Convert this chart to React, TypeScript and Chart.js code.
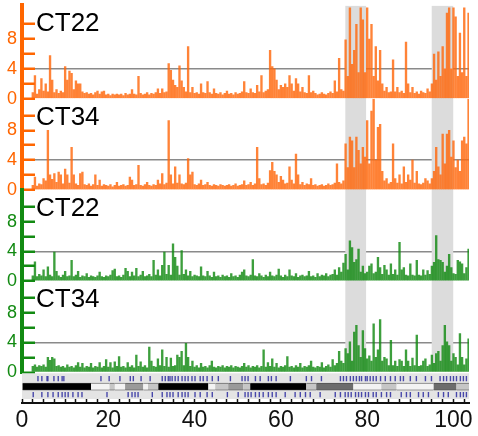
import React, { useEffect, useRef } from 'react';
import { Chart, registerables } from 'chart.js';

Chart.register(...registerables);

// ---------- data ----------
const SAMPLE_START = 2.5;
const SAMPLE_STEP = 0.5;

const ORANGE_CT22 = [
  0.8, 3.1, 0.6, 1.2, 2.7, 1.0, 2.0, 0.9, 5.8, 2.5,
  0.8, 1.2, 0.7, 1.0, 0.8, 4.3, 2.5, 3.7, 3.4, 1.2,
  2.4, 2.0, 2.0, 0.9, 0.7, 0.8, 0.6, 0.7, 0.5, 0.8,
  1.0, 0.6, 0.9, 1.0, 0.5, 0.6, 0.4, 0.6, 0.5, 0.6,
  0.5, 0.6, 0.4, 0.7, 0.5, 0.6, 1.2, 0.6, 0.5, 3.0,
  0.7, 0.5, 0.6, 0.8, 0.5, 0.7, 0.6, 0.8, 1.3, 0.7,
  1.3, 0.8, 0.9, 4.7, 3.8, 2.5, 1.8, 1.5, 4.4, 2.4,
  1.5, 0.9, 7.0, 0.8, 1.5, 0.7, 0.8, 0.6, 2.0, 0.8,
  0.7, 2.3, 0.8, 0.6, 1.3, 0.7, 0.6, 0.8, 0.5, 0.7,
  1.0, 0.6, 0.7, 0.5, 0.8, 0.6, 0.7, 0.9, 2.3, 0.8,
  0.7, 1.3, 0.8, 0.7, 1.8, 0.9, 3.1, 0.8, 1.0, 1.2,
  6.5, 4.3, 4.0, 2.5, 1.2, 1.8, 1.5, 2.0, 1.5, 3.1,
  2.0, 1.0, 2.7, 2.0, 0.9, 1.5, 0.8, 0.7, 3.1, 0.8,
  1.0, 0.7, 0.5, 0.6, 0.8, 0.6, 0.5, 0.7, 0.9, 0.7,
  2.4, 0.9, 5.4, 1.2, 1.0, 7.9, 3.0, 12.2, 4.6, 6.5,
  10.0, 3.5, 12.2, 10.6, 3.5, 12.2, 8.0, 10.0, 3.0, 7.0,
  2.4, 6.5, 2.0, 1.0, 1.5, 0.8, 0.9, 5.2, 0.9, 1.5,
  0.8, 1.0, 0.7, 7.6, 2.0, 0.8, 1.5, 0.7, 0.9, 0.6,
  1.0, 0.8, 0.7, 1.3, 0.9, 2.0, 6.0, 2.5, 6.3, 3.0,
  7.0, 4.0, 11.5, 12.2, 4.0, 12.2, 11.0, 3.0, 8.8, 3.5,
  12.2, 3.0, 11.5,
];

const ORANGE_CT34 = [
  0.6, 1.7, 0.5, 0.8, 0.7, 1.5, 1.2, 8.0, 2.0, 1.4,
  2.2, 1.0, 2.4, 2.0, 0.8, 2.8, 2.0, 0.9, 5.7, 2.0,
  0.8, 0.6, 2.2, 2.4, 0.7, 0.6, 0.8, 0.5, 0.7, 2.0,
  0.6, 1.3, 0.5, 0.7, 0.6, 0.5, 0.7, 0.4, 0.6, 1.0,
  0.5, 0.6, 0.7, 0.5, 0.6, 1.7, 1.3, 0.6, 0.7, 3.3,
  0.6, 0.5, 0.7, 1.0, 0.6, 0.5, 0.7, 0.6, 1.3, 0.8,
  2.2, 0.7, 0.9, 9.3, 2.0, 0.8, 3.1, 0.9, 2.0, 0.8,
  0.7, 0.9, 4.2, 2.0, 2.4, 0.7, 0.6, 0.8, 1.3, 0.6,
  0.7, 1.0, 0.6, 0.5, 0.7, 0.6, 0.5, 0.7, 0.6, 0.5,
  0.6, 0.7, 0.5, 0.6, 0.8, 0.5, 0.6, 0.7, 1.2, 0.6,
  0.7, 1.0, 0.6, 0.8, 5.7, 1.5, 0.7, 0.8, 0.6, 0.9,
  2.6, 3.7, 2.5, 2.0, 1.0, 1.8, 1.3, 0.8, 0.9, 3.1,
  1.3, 0.8, 4.8, 2.0, 0.7, 1.0, 0.6, 0.8, 0.7, 1.5,
  0.6, 0.7, 0.5, 0.6, 0.7, 0.5, 0.6, 0.8, 0.6, 0.7,
  0.9, 3.5, 1.0, 0.8, 1.2, 6.2, 3.0, 7.1, 6.6, 3.0,
  7.1, 5.3, 3.5, 5.7, 4.4, 9.3, 3.5, 10.6, 12.2, 4.0,
  8.4, 8.8, 2.5, 1.2, 1.5, 0.8, 1.0, 6.2, 1.5, 0.9,
  2.0, 0.8, 3.1, 1.0, 2.0, 1.3, 4.0, 0.9, 2.5, 0.8,
  0.7, 0.9, 1.5, 1.2, 0.8, 1.5, 2.5, 5.7, 3.1, 2.0,
  7.5, 3.5, 7.5, 8.0, 4.4, 6.6, 3.0, 4.0, 2.5, 6.6,
  7.1, 6.2, 12.2,
];

const GREEN_CT22 = [
  0.7, 2.6, 0.6, 0.9, 0.7, 1.5, 0.6, 1.9, 0.8, 0.6,
  3.9, 1.3, 0.7, 0.5, 0.8, 1.3, 0.6, 0.7, 2.8, 0.6,
  0.8, 1.3, 0.5, 0.7, 0.6, 1.0, 0.5, 0.7, 0.6, 0.5,
  0.7, 1.2, 0.6, 0.5, 0.7, 0.6, 0.8, 1.4, 1.6, 0.6,
  0.7, 0.5, 0.8, 1.7, 1.3, 0.6, 1.2, 0.7, 1.7, 0.6,
  0.8, 1.3, 0.6, 0.7, 0.9, 0.6, 2.8, 0.8, 1.5, 0.7,
  2.1, 3.9, 0.9, 2.1, 0.8, 5.0, 3.2, 2.0, 0.8, 4.1,
  0.9, 1.5, 0.7, 1.3, 0.6, 0.8, 0.7, 0.6, 1.9, 0.7,
  0.6, 1.3, 0.7, 0.5, 1.2, 0.6, 0.7, 0.5, 0.8, 0.6,
  0.7, 0.5, 1.0, 0.6, 0.7, 0.5, 0.8, 1.2, 1.5, 0.7,
  0.6, 0.8, 2.9, 0.7, 0.6, 1.0, 0.7, 0.5, 0.8, 0.6,
  1.2, 0.7, 0.6, 0.8, 1.6, 0.7, 0.5, 0.8, 0.6, 1.5,
  0.7, 0.6, 1.0, 0.5, 0.7, 0.8, 0.6, 0.7, 1.3, 0.6,
  0.7, 0.5, 1.0, 0.6, 0.8, 0.7, 1.0, 0.6, 0.8, 0.9,
  1.5, 0.8, 1.8, 1.2, 2.4, 3.6, 1.5, 5.4, 4.5, 2.5,
  2.9, 4.3, 1.2, 2.0, 1.0, 1.2, 2.0, 2.3, 1.0, 1.2,
  3.2, 1.8, 0.9, 2.1, 1.5, 0.8, 2.3, 0.9, 1.5, 0.8,
  5.2, 1.5, 1.8, 0.8, 0.7, 2.3, 0.8, 0.7, 2.8, 0.8,
  0.7, 1.5, 0.8, 1.4, 0.9, 2.0, 2.5, 6.1, 2.9, 2.8,
  2.5, 1.2, 2.0, 3.6, 1.8, 1.0, 0.9, 2.8, 2.6, 2.3,
  1.0, 1.8, 4.3,
];

const GREEN_CT34 = [
  0.8, 1.0, 0.7, 0.9, 0.8, 1.0, 0.7, 2.0, 1.6, 2.0,
  1.8, 0.8, 0.9, 0.7, 0.8, 0.6, 1.0, 0.7, 0.8, 0.6,
  0.9, 1.3, 0.7, 1.2, 0.6, 0.8, 0.7, 1.2, 0.6, 0.8,
  0.7, 1.3, 0.6, 0.8, 1.7, 0.7, 1.3, 0.6, 1.4, 0.8,
  2.1, 0.7, 0.8, 0.6, 1.3, 0.7, 0.9, 0.6, 2.3, 0.8,
  1.4, 0.7, 0.9, 0.6, 3.4, 1.5, 0.8, 0.7, 1.8, 0.9,
  3.0, 0.8, 2.0, 0.7, 1.9, 0.8, 0.9, 2.3, 2.0, 2.8,
  0.9, 3.9, 2.0, 0.8, 1.5, 0.7, 0.9, 0.6, 1.2, 0.7,
  0.8, 0.6, 0.9, 1.5, 0.7, 0.6, 0.8, 0.7, 0.9, 0.6,
  0.8, 0.7, 0.9, 0.6, 0.8, 0.7, 0.6, 0.8, 1.2, 0.7,
  0.9, 0.6, 0.8, 0.7, 0.9, 0.6, 0.8, 3.0, 0.7, 1.3,
  0.8, 1.8, 0.7, 1.2, 0.6, 0.8, 0.7, 0.9, 2.1, 0.7,
  0.8, 0.6, 0.9, 0.7, 1.2, 0.6, 0.8, 0.7, 0.9, 1.5,
  0.7, 0.6, 0.8, 0.7, 1.3, 0.6, 0.8, 1.0, 0.7, 1.7,
  0.9, 1.2, 2.8, 1.5, 1.2, 3.2, 2.5, 4.1, 1.5, 5.4,
  6.3, 3.6, 2.0, 5.6, 3.2, 1.8, 2.2, 1.5, 6.5, 2.0,
  3.0, 7.1, 1.5, 2.0, 1.8, 0.9, 4.3, 0.9, 1.5, 0.8,
  1.7, 1.5, 0.8, 3.0, 1.5, 0.8, 1.9, 0.9, 5.0, 0.8,
  0.9, 1.5, 1.8, 0.8, 1.0, 2.3, 1.2, 2.5, 2.8, 1.5,
  3.6, 6.3, 4.1, 3.6, 1.5, 2.5, 2.0, 1.0, 5.2, 2.0,
  1.0, 1.8, 4.5,
];

const PANEL_LABELS = ['CT22', 'CT34', 'CT22', 'CT34'];
const Y_TICKS = [0, 2, 4, 6, 8, 10];
const Y_LABELED = [0, 4, 8];
const THRESHOLD = 4;
const X_LABELS = [0, 20, 40, 60, 80, 100];
const RULER_STEP = 2.5;

// highlighted regions (x start, x end)
const HIGHLIGHT_STARTS = [74.9, 94.9];
const HIGHLIGHT_ENDS = [79.8, 100.0];

// chromosome ideogram
const IDEO_EDGES = [0, 16.0, 20.3, 21.5, 23.9, 28.1, 29.2, 31.6, 43.2, 44.8, 47.8, 51.3, 52.9, 65.9, 68.2, 76.8, 83.3, 86.8, 95.4, 100.7, 103.6];
const IDEO_STAINS = ['gpos100', 'gneg', 'gpos25', 'gneg', 'gpos50', 'gneg', 'gpos25', 'gpos100', 'gneg', 'gpos25', 'gpos50', 'gpos25', 'gpos100', 'gpos25', 'gpos75', 'gneg', 'gpos25', 'gneg', 'gpos75', 'gpos25'];
const GENES_TOP = [3.7, 4.6, 5.8, 6.0, 7.4, 8.4, 9.3, 9.7, 18.3, 20.2, 22.7, 25.1, 25.8, 27.6, 29.7, 32.5, 33.2, 33.9, 34.3, 34.8, 35.5, 36.2, 37.1, 37.8, 38.5, 39.4, 40.1, 41.3, 42.0, 42.9, 44.1, 45.5, 48.3, 51.0, 51.7, 52.4, 54.1, 55.2, 57.1, 57.8, 58.9, 62.2, 65.9, 67.1, 69.4, 73.8, 74.5, 75.2, 76.1, 76.8, 77.5, 78.2, 78.7, 79.6, 80.0, 80.7, 81.4, 82.1, 83.1, 84.2, 85.4, 86.5, 87.7, 88.4, 90.0, 91.4, 93.5, 94.9, 96.9, 97.7, 98.4, 99.3, 100.0, 100.7, 101.6, 102.3, 103.0];
const GENES_BOTTOM = [2.6, 4.6, 6.0, 7.2, 8.4, 9.3, 10.0, 10.7, 11.8, 13.0, 13.9, 19.7, 24.6, 25.5, 26.2, 26.9, 30.2, 32.5, 33.6, 34.3, 35.0, 36.2, 37.1, 37.8, 38.5, 40.1, 41.3, 42.9, 44.1, 47.6, 50.1, 51.7, 52.4, 53.1, 54.1, 55.0, 55.9, 57.1, 58.0, 58.9, 61.0, 63.3, 64.5, 65.7, 66.8, 69.1, 72.6, 73.8, 74.9, 75.6, 76.3, 77.3, 78.0, 78.7, 79.6, 80.3, 81.4, 82.1, 83.3, 84.5, 85.4, 87.9, 89.1, 90.0, 91.9, 93.0, 94.2, 96.5, 97.7, 98.8, 100.7, 101.6, 102.3, 103.0];

// ---------- layout / style ----------
const FONT = '"Liberation Sans", Arial, Helvetica, sans-serif';
const ORANGE = '#ff6600';
const GREEN = '#128a12';
const X_MIN = 0;
const X_MAX = 103.6;
const PX_PER_UNIT = 7.5;
const PANEL_PX = [94, 92, 92, 92];
const IDEO_PX = 31;
const TRACK_TOP = 24.5;
const TRACK_BAR = 16.5;
const TRACK_BOTTOM = 8.5;
const TRACK_BG_LOW = 4;
const TRACK_BG_HIGH = 30;
const BAND_FLOOR = 0.08;
const STAIN_COLORS: Record<string, string> = {
  gneg: '#f3f3f3',
  gpos25: '#c6c6c6',
  gpos50: '#9a9a9a',
  gpos75: '#6c6c6c',
  gpos100: '#000000',
};

const PANELS = [
  { id: 'y1', values: ORANGE_CT22, color: ORANGE, bar: 'rgba(255,104,12,0.82)' },
  { id: 'y2', values: ORANGE_CT34, color: ORANGE, bar: 'rgba(255,104,12,0.82)' },
  { id: 'y3', values: GREEN_CT22, color: GREEN, bar: 'rgba(18,138,18,0.82)' },
  { id: 'y4', values: GREEN_CT34, color: GREEN, bar: 'rgba(18,138,18,0.82)' },
];

function toPoints(values: number[]) {
  return values.map((v, i) => ({ x: SAMPLE_START + i * SAMPLE_STEP, y: v }));
}

function panelAxis(color: string, px: number, layoutWeight: number) {
  return {
    type: 'linear',
    axis: 'y',
    position: 'left',
    stack: 'panels',
    stackWeight: px,
    weight: layoutWeight,
    z: 1,
    offset: false,
    min: 0,
    max: px / PX_PER_UNIT,
    afterBuildTicks: (s: any) => {
      s.ticks = Y_TICKS.map((v) => ({ value: v }));
    },
    afterFit: (s: any) => {
      s.width = 22;
      s.paddingTop = 0;
      s.paddingBottom = 0;
    },
    border: { display: true, color, width: 4 },
    grid: {
      display: true,
      offset: false,
      drawOnChartArea: true,
      drawTicks: true,
      tickLength: -13,
      tickColor: color,
      tickWidth: 2.5,
      lineWidth: 1.5,
      color: (c: any) => (c.tick && c.tick.value === THRESHOLD ? '#8a8a8a' : 'rgba(0,0,0,0)'),
    },
    ticks: {
      autoSkip: false,
      padding: 18,
      color,
      font: { family: FONT, size: 18 },
      callback: (v: any) => (Y_LABELED.includes(Number(v)) ? String(v) : ''),
    },
  };
}

const panelTitles = {
  id: 'panelTitles',
  afterDraw(chart: any) {
    const ctx = chart.ctx;
    ctx.save();
    ctx.fillStyle = '#000';
    ctx.font = `26px ${FONT}`;
    ctx.textAlign = 'left';
    ctx.textBaseline = 'alphabetic';
    PANELS.forEach((p, k) => {
      const s = chart.scales[p.id];
      ctx.fillText(PANEL_LABELS[k], chart.chartArea.left + 14, s.top + 26);
    });
    ctx.restore();
  },
};

export default function App() {
  const ref = useRef<HTMLCanvasElement | null>(null);

  useEffect(() => {
    if (!ref.current) return;
    Chart.defaults.font.family = FONT;

    const datasets: any[] = [];

    PANELS.forEach((p) => {
      datasets.push({
        type: 'bar',
        data: toPoints(p.values),
        xAxisID: 'x',
        yAxisID: p.id,
        backgroundColor: p.bar,
        borderWidth: 0,
        barThickness: 1.7,
        grouped: false,
        order: 1,
      });
    });

    const geneStyle = {
      type: 'line',
      showLine: false,
      xAxisID: 'x',
      yAxisID: 'yI',
      pointStyle: 'line',
      pointRotation: 90,
      pointRadius: 2.6,
      pointBorderWidth: 1.4,
      pointBorderColor: 'rgba(45,45,160,0.85)',
      pointBackgroundColor: 'rgba(45,45,160,0.85)',
      order: 2,
    };
    datasets.push({ ...geneStyle, data: GENES_TOP.map((x) => ({ x, y: TRACK_TOP })) });
    datasets.push({ ...geneStyle, data: GENES_BOTTOM.map((x) => ({ x, y: TRACK_BOTTOM })) });

    datasets.push({
      type: 'bar',
      indexAxis: 'y',
      xAxisID: 'x',
      yAxisID: 'yI',
      data: IDEO_STAINS.map((_, k) => ({ x: [IDEO_EDGES[k], IDEO_EDGES[k + 1]], y: TRACK_BAR })),
      backgroundColor: IDEO_STAINS.map((s) => STAIN_COLORS[s]),
      borderColor: '#444',
      borderWidth: { top: 0.8, bottom: 0.8, left: 0, right: 0 },
      borderSkipped: false,
      barThickness: 7,
      grouped: false,
      order: 3,
    });

    datasets.push({
      type: 'line',
      xAxisID: 'x',
      yAxisID: 'yI',
      data: [
        { x: X_MIN, y: TRACK_BG_HIGH },
        { x: X_MAX, y: TRACK_BG_HIGH },
      ],
      fill: { value: TRACK_BG_LOW },
      backgroundColor: '#e4e4e4',
      borderColor: 'rgba(0,0,0,0)',
      borderWidth: 0,
      pointRadius: 0,
      order: 8,
    });

    HIGHLIGHT_STARTS.forEach((a, k) => {
      datasets.push({
        type: 'line',
        xAxisID: 'x',
        yAxisID: 'yB',
        data: [
          { x: a, y: 1 },
          { x: HIGHLIGHT_ENDS[k], y: 1 },
        ],
        fill: { value: BAND_FLOOR },
        backgroundColor: '#dcdcdc',
        borderColor: 'rgba(0,0,0,0)',
        borderWidth: 0,
        pointRadius: 0,
        order: 9,
      });
    });

    const chart = new Chart(ref.current, {
      type: 'line',
      data: { datasets },
      options: {
        animation: false,
        responsive: false,
        maintainAspectRatio: false,
        devicePixelRatio: 1,
        events: [],
        layout: { padding: { top: 2, right: 9, bottom: 0, left: 0 } },
        plugins: { legend: { display: false }, tooltip: { enabled: false } },
        scales: {
          x: {
            type: 'linear',
            position: 'bottom',
            min: X_MIN,
            max: X_MAX,
            offset: false,
            afterFit: (s: any) => {
              s.height = 33;
              s.paddingLeft = 0;
              s.paddingRight = 0;
            },
            border: { display: true, color: '#111', width: 2 },
            grid: {
              display: true,
              offset: false,
              drawOnChartArea: false,
              drawTicks: true,
              tickLength: -4,
              tickColor: '#111',
              tickWidth: 1.5,
            },
            ticks: {
              stepSize: RULER_STEP,
              includeBounds: false,
              autoSkip: false,
              maxRotation: 0,
              minRotation: 0,
              padding: 8,
              color: '#111',
              font: { family: FONT, size: 23 },
              callback: (v: any) => (X_LABELS.includes(Number(v)) ? String(v) : ''),
            },
          },
          y1: panelAxis(ORANGE, PANEL_PX[0], 5),
          y2: panelAxis(ORANGE, PANEL_PX[1], 4),
          y3: panelAxis(GREEN, PANEL_PX[2], 3),
          y4: panelAxis(GREEN, PANEL_PX[3], 2),
          yI: {
            type: 'linear',
            axis: 'y',
            position: 'left',
            stack: 'panels',
            stackWeight: IDEO_PX,
            weight: 1,
            offset: false,
            min: 0,
            max: IDEO_PX,
            afterFit: (s: any) => {
              s.width = 22;
              s.paddingTop = 0;
              s.paddingBottom = 0;
            },
            border: { display: false },
            grid: { display: false, drawTicks: false, offset: false },
            ticks: { display: false },
          },
          yB: {
            type: 'linear',
            axis: 'y',
            position: 'right',
            display: false,
            offset: false,
            min: 0,
            max: 1,
          },
        } as any,
      },
      plugins: [panelTitles],
    } as any);

    return () => chart.destroy();
  }, []);

  return (
    <div style={{ position: 'absolute', left: 0, top: 0, width: 478, height: 436, background: '#fff' }}>
      <canvas ref={ref} width={478} height={436} style={{ display: 'block', width: 478, height: 436 }} />
    </div>
  );
}
